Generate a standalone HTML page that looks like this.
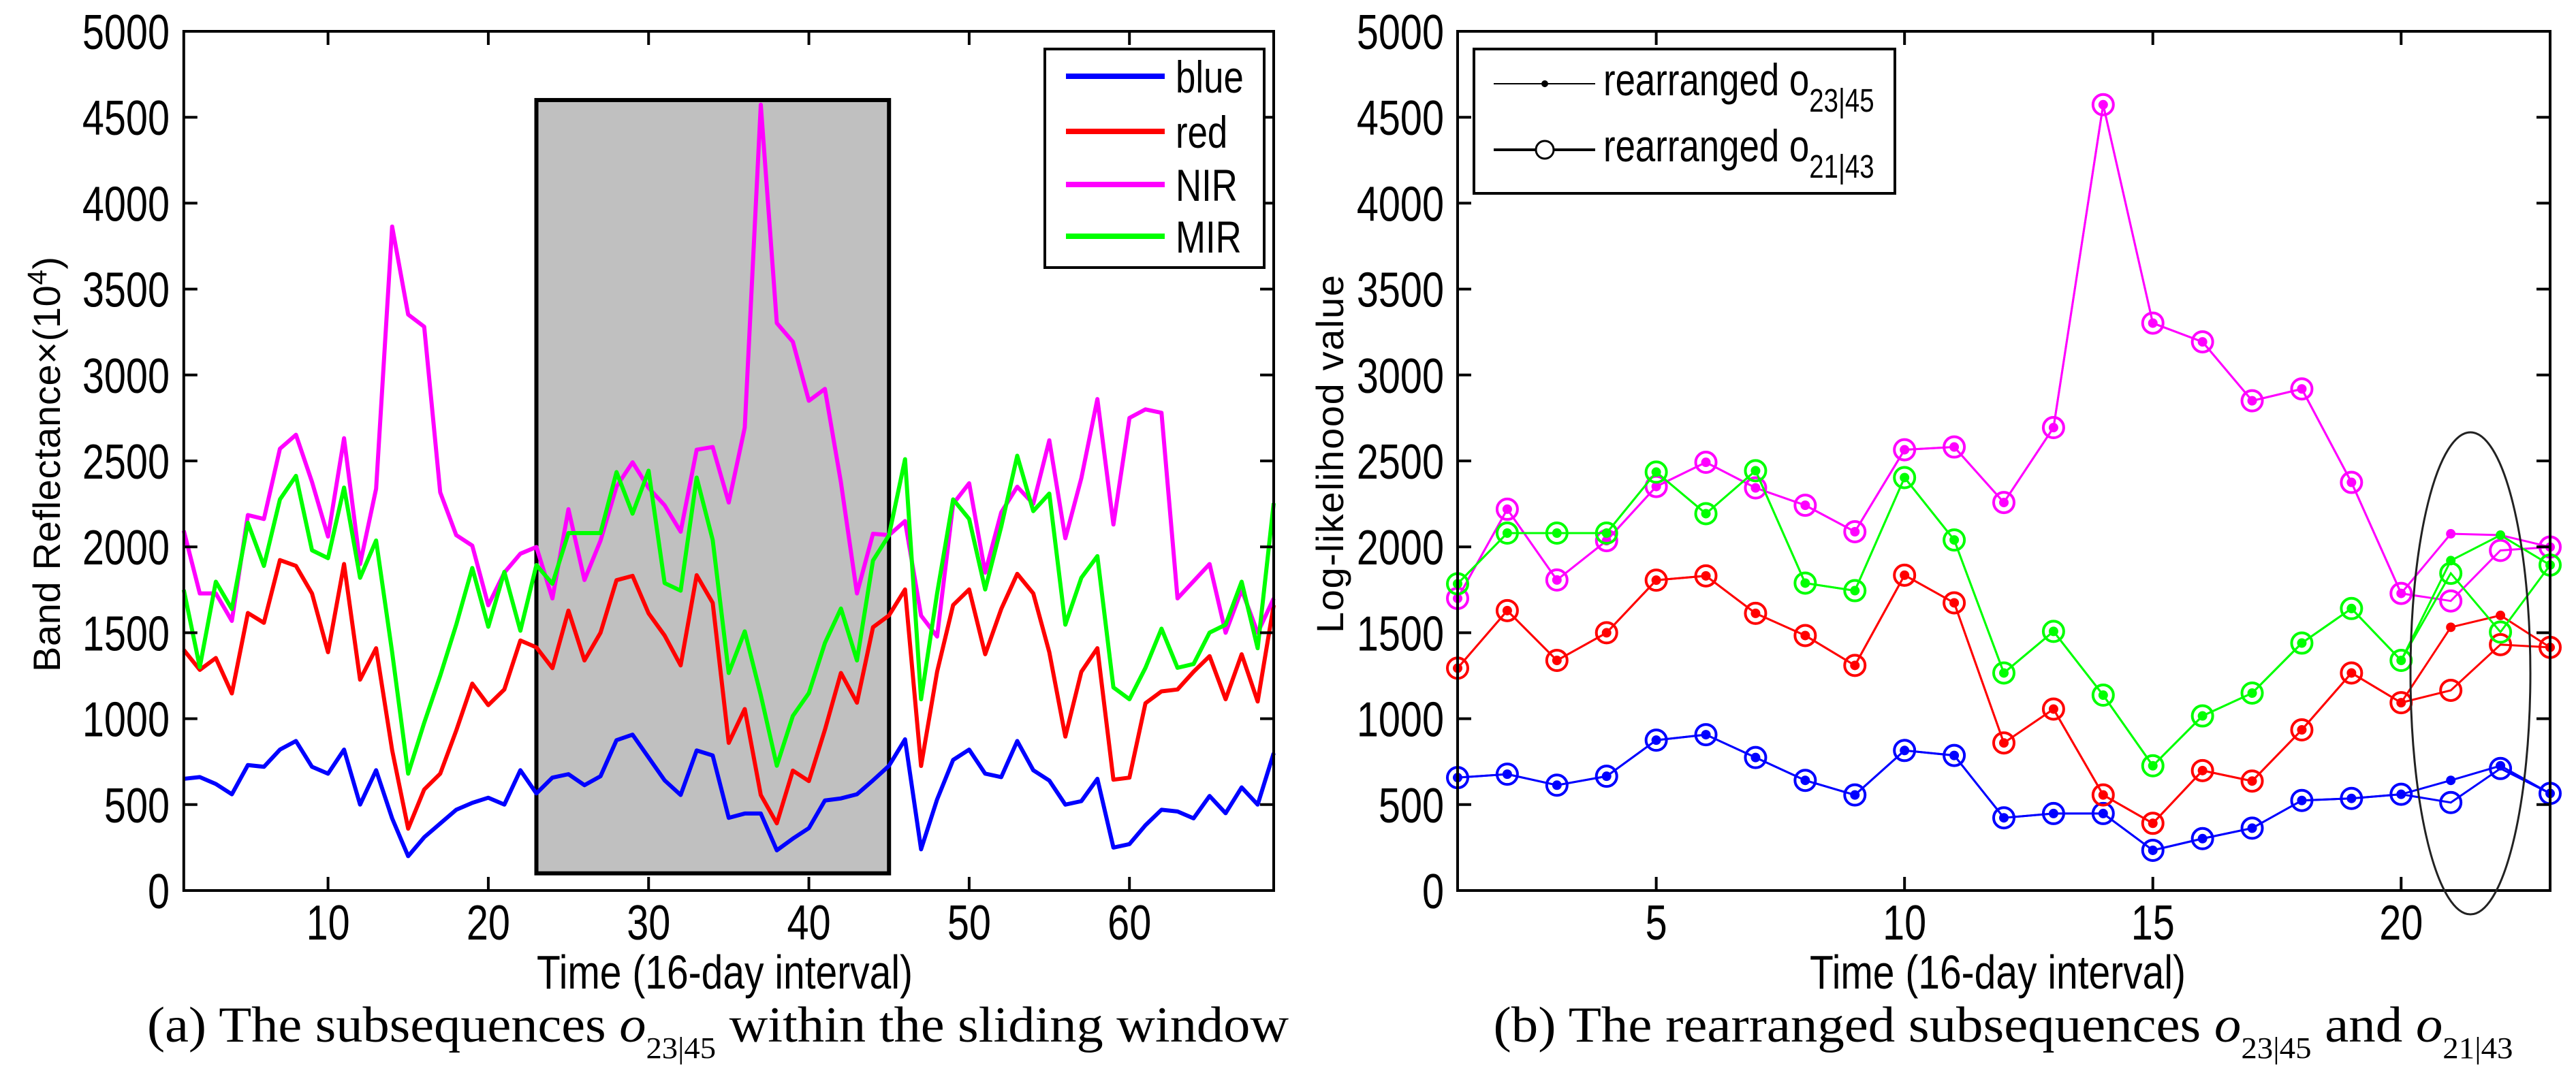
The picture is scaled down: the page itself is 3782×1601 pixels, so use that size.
<!DOCTYPE html>
<html><head><meta charset="utf-8"><style>
html,body{margin:0;padding:0;background:#fff;}
svg{display:block;}
text{font-family:"Liberation Sans",sans-serif;}
.serif{font-family:"Liberation Serif",serif;}
</style></head><body>
<svg id="fig" width="3782" height="1601" viewBox="0 0 3782 1601" xmlns="http://www.w3.org/2000/svg">
<g id="left"></g>
<g id="right"></g>
</svg>
<script>
// ---- Left chart data (time index 1..69) ----
const leftBlue = [650,660,620,560,730,720,820,870,720,680,820,500,700,420,200,310,390,470,510,540,500,700,565,657,677,613,665,875,907,774,641,556,815,786,423,448,448,234,302,363,524,536,560,641,726,880,240,530,760,820,680,660,870,700,640,500,520,650,250,270,380,470,460,420,550,450,600,500,800];
const leftRed = [1400,1284,1353,1147,1615,1558,1923,1889,1729,1387,1900,1227,1410,817,360,588,680,931,1204,1079,1170,1455,1415,1294,1629,1339,1500,1806,1831,1613,1484,1310,1835,1674,859,1056,556,391,698,637,935,1266,1093,1532,1601,1752,725,1273,1661,1752,1375,1638,1843,1729,1387,896,1273,1410,645,657,1090,1159,1170,1273,1364,1113,1375,1100,1661];
const leftNIR = [2094,1729,1729,1569,2185,2162,2571,2652,2378,2060,2632,1900,2338,3864,3352,3281,2317,2068,2007,1660,1850,1960,1999,1700,2219,1807,2036,2351,2492,2343,2242,2088,2565,2581,2258,2694,4573,3302,3193,2850,2919,2375,1729,2076,2068,2150,1600,1478,2250,2370,1850,2200,2350,2250,2620,2050,2400,2860,2130,2750,2800,2780,1700,1800,1900,1500,1750,1500,1700];
const leftMIR = [1750,1300,1797,1638,2140,1889,2276,2413,1980,1934,2345,1820,2037,1387,680,976,1250,1547,1877,1535,1854,1512,1894,1785,2080,2080,2080,2435,2193,2443,1789,1745,2403,2040,1266,1508,1137,726,1016,1149,1440,1641,1339,1920,2068,2510,1113,1729,2276,2162,1752,2117,2530,2208,2310,1547,1820,1946,1182,1113,1296,1524,1296,1318,1501,1547,1797,1410,2254];
const leftXTicks = [10,20,30,40,50,60];
const yTicks = [0,500,1000,1500,2000,2500,3000,3500,4000,4500,5000];
const windowRange = [23,45,100,4600];
const legendLabels = ["blue","red","NIR","MIR"];
// ---- Right chart data (index 1..23) ----
const rBlueA = [657,677,613,665,875,907,774,641,556,815,786,423,448,448,234,302,363,524,536,560,641,726,565];
const rBlueB = [657,677,613,665,875,907,774,641,556,815,786,423,448,448,234,302,363,524,536,560,512,710,565];
const rRedA = [1294,1629,1339,1500,1806,1831,1613,1484,1310,1835,1674,859,1056,556,391,698,637,935,1266,1093,1532,1601,1415];
const rRedB = [1294,1629,1339,1500,1806,1831,1613,1484,1310,1835,1674,859,1056,556,391,698,637,935,1266,1093,1165,1431,1415];
const rNIRA = [1700,2219,1807,2036,2351,2492,2343,2242,2088,2565,2581,2258,2694,4573,3302,3193,2850,2919,2375,1729,2076,2068,1999];
const rNIRB = [1700,2219,1807,2036,2351,2492,2343,2242,2088,2565,2581,2258,2694,4573,3302,3193,2850,2919,2375,1729,1685,1979,1999];
const rMIRA = [1785,2080,2080,2080,2435,2193,2443,1789,1745,2403,2040,1266,1508,1137,726,1016,1149,1440,1641,1339,1920,2068,1894];
const rMIRB = [1785,2080,2080,2080,2435,2193,2443,1789,1745,2403,2040,1266,1508,1137,726,1016,1149,1440,1641,1339,1846,1504,1894];
const rightXTicks = [5,10,15,20];

const NS="http://www.w3.org/2000/svg";
function mk(tag,attrs,parent){const e=document.createElementNS(NS,tag);for(const k in attrs)e.setAttribute(k,attrs[k]);parent.appendChild(e);return e;}
function txt(parent,s,x,y,size,anchor,sx){
  const t=mk('text',{transform:`translate(${x},${y}) scale(${sx||0.8},1)`,'font-size':size,'text-anchor':anchor||'middle'},parent);
  t.textContent=s;return t;
}
const Y0=1308, Y1=46, ymax=5000;
function yS(v){return Y0-(v/ymax)*(Y0-Y1);}
const TICKF=72;
// ---------- LEFT ----------
const L=document.getElementById('left');
const lx0=269.8,lx1=1870;
function xL(i){return lx0+(i-1)*(lx1-lx0)/68;}
const win=mk('rect',{x:xL(windowRange[0]),y:yS(windowRange[3]),width:xL(windowRange[1])-xL(windowRange[0]),height:yS(windowRange[2])-yS(windowRange[3]),fill:'#c0c0c0',stroke:'#000','stroke-width':6},L);


const lseries=[[leftBlue,'#0000ff','blue'],[leftRed,'#ff0000','red'],[leftNIR,'#ff00ff','nir'],[leftMIR,'#00ff00','mir']];
lseries.forEach(([d,c,n])=>{
  const p=mk('polyline',{points:d.map((v,i)=>xL(i+1)+','+yS(v)).join(' '),fill:'none',stroke:c,'stroke-width':6,'stroke-linejoin':'round'},L);
  
  
});
mk('rect',{x:lx0,y:Y1,width:lx1-lx0,height:Y0-Y1,fill:'none',stroke:'#000','stroke-width':4},L);
yTicks.forEach(v=>{
  mk('line',{x1:lx0,x2:lx0+20,y1:yS(v),y2:yS(v),stroke:'#000','stroke-width':4},L);
  mk('line',{x1:lx1,x2:lx1-20,y1:yS(v),y2:yS(v),stroke:'#000','stroke-width':4},L);
  const t=txt(L,String(v),249,yS(v)+26,TICKF,'end');
  
  
});
leftXTicks.forEach(v=>{
  mk('line',{x1:xL(v),x2:xL(v),y1:Y0,y2:Y0-20,stroke:'#000','stroke-width':4},L);
  mk('line',{x1:xL(v),x2:xL(v),y1:Y1,y2:Y1+20,stroke:'#000','stroke-width':4},L);
  const t=txt(L,String(v),xL(v),1380,TICKF,'middle');
  
  
});
const lg=mk('g',{},L);


mk('rect',{x:1534,y:72,width:322,height:321,fill:'#fff',stroke:'#000','stroke-width':4},lg);
legendLabels.forEach((s,i)=>{
  const yy=[112,193,271,347][i];
  mk('line',{x1:1565,x2:1710,y1:yy,y2:yy,stroke:lseries[i][1],'stroke-width':8},lg);
  const t=txt(lg,s,1726,yy+24,66,'start',0.8);
  
  
});
let t=mk('text',{x:0,y:0,transform:'translate(88,682) rotate(-90)','font-size':56,'text-anchor':'middle',textLength:610,lengthAdjust:'spacing'},L);
t.innerHTML='Band Reflectance×(10<tspan dy="-20" font-size="40">4</tspan><tspan dy="20">)</tspan>';


t=mk('text',{x:1064,y:1452,'font-size':70,'text-anchor':'middle',textLength:552,lengthAdjust:'spacingAndGlyphs'},L);
t.textContent='Time (16-day interval)';


t=mk('text',{x:1054,y:1530,'font-size':74,'text-anchor':'middle','class':'serif',textLength:1676,lengthAdjust:'spacingAndGlyphs'},L);
t.innerHTML='(a) The subsequences <tspan font-style="italic">o</tspan><tspan dy="24" font-size="44">23|45</tspan><tspan dy="-24"> within the sliding window</tspan>';



// ---------- RIGHT ----------
const R=document.getElementById('right');
const rx0=2140,rx1=3744;
function xR(i){return rx0+(i-1)*(rx1-rx0)/22;}
const rs=[[rBlueA,rBlueB,'#0000ff','blue'],[rRedA,rRedB,'#ff0000','red'],[rNIRA,rNIRB,'#ff00ff','nir'],[rMIRA,rMIRB,'#00ff00','mir']];
rs.forEach(([a,b,c,n])=>{
  const pb=mk('polyline',{points:b.map((v,i)=>xR(i+1)+','+yS(v)).join(' '),fill:'none',stroke:c,'stroke-width':3},R);
  
  
  b.forEach((v,i)=>{
    const m=mk('circle',{cx:xR(i+1),cy:yS(v),r:15,fill:'none',stroke:c,'stroke-width':4},R);
    
    
  });
  const pa=mk('polyline',{points:a.map((v,i)=>xR(i+1)+','+yS(v)).join(' '),fill:'none',stroke:c,'stroke-width':3},R);
  
  
  a.forEach((v,i)=>{
    const m=mk('circle',{cx:xR(i+1),cy:yS(v),r:7,fill:c},R);
    
    
  });
});
mk('rect',{x:rx0,y:Y1,width:rx1-rx0,height:Y0-Y1,fill:'none',stroke:'#000','stroke-width':4},R);
yTicks.forEach(v=>{
  mk('line',{x1:rx0,x2:rx0+20,y1:yS(v),y2:yS(v),stroke:'#000','stroke-width':4},R);
  mk('line',{x1:rx1,x2:rx1-20,y1:yS(v),y2:yS(v),stroke:'#000','stroke-width':4},R);
  const t=txt(R,String(v),2120,yS(v)+26,TICKF,'end');
  
  
});
rightXTicks.forEach(v=>{
  mk('line',{x1:xR(v),x2:xR(v),y1:Y0,y2:Y0-20,stroke:'#000','stroke-width':4},R);
  mk('line',{x1:xR(v),x2:xR(v),y1:Y1,y2:Y1+20,stroke:'#000','stroke-width':4},R);
  const t=txt(R,String(v),xR(v),1380,TICKF,'middle');
  
  
});
const el=mk('ellipse',{cx:3627,cy:989,rx:88,ry:354,fill:'none',stroke:'#222','stroke-width':3},R);


const rg=mk('g',{},R);


mk('rect',{x:2164,y:72,width:618,height:212,fill:'#fff',stroke:'#000','stroke-width':4},rg);
mk('line',{x1:2193,x2:2342,y1:123,y2:123,stroke:'#000','stroke-width':2},rg);
mk('circle',{cx:2268,cy:123,r:5,fill:'#000'},rg);
mk('line',{x1:2193,x2:2342,y1:220,y2:220,stroke:'#000','stroke-width':4},rg);
mk('circle',{cx:2268,cy:220,r:13,fill:'#fff',stroke:'#000','stroke-width':3},rg);
[['23|45',140],['21|43',237]].forEach(([s,yy])=>{
  const t=mk('text',{transform:`translate(2354,${yy}) scale(0.8,1)`,'font-size':66},rg);
  t.innerHTML='rearranged o<tspan dy="24" font-size="48">'+s+'</tspan>';
  
  
});
t=mk('text',{x:0,y:0,transform:'translate(1972,667) rotate(-90)','font-size':56,'text-anchor':'middle',textLength:526,lengthAdjust:'spacing'},R);
t.textContent='Log-likelihood value';


t=mk('text',{x:2933,y:1452,'font-size':70,'text-anchor':'middle',textLength:552,lengthAdjust:'spacingAndGlyphs'},R);
t.textContent='Time (16-day interval)';


t=mk('text',{x:2941,y:1530,'font-size':74,'text-anchor':'middle','class':'serif',textLength:1497,lengthAdjust:'spacingAndGlyphs'},R);
t.innerHTML='(b) The rearranged subsequences <tspan font-style="italic">o</tspan><tspan dy="24" font-size="44">23|45</tspan><tspan dy="-24"> and </tspan><tspan font-style="italic">o</tspan><tspan dy="24" font-size="44">21|43</tspan>';


</script>
</body></html>
